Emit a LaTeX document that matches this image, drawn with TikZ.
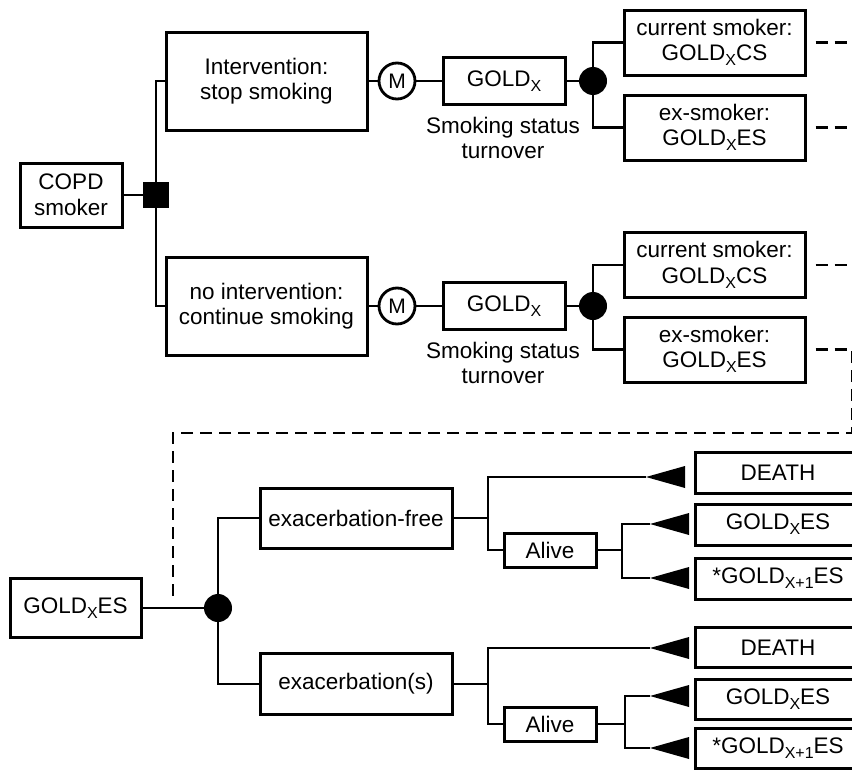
\documentclass[tikz,border=0pt]{standalone}
\usepackage{fontspec}
\setmainfont{Liberation Sans}
\newcommand\dn[1]{\raisebox{-5pt}{\fontsize{16}{16}\selectfont #1}}
\begin{document}
\begin{tikzpicture}[x=1pt,y=-1pt,
  box/.style={draw, line width=3pt, inner sep=0pt, align=center, font=\fontsize{22.5}{25.5}\selectfont},
  ln/.style={line width=2.8pt},
  dsh/.style={line width=2.8pt, dash pattern=on 12pt off 7pt},
  lbl/.style={align=center, inner sep=0pt, font=\fontsize{22.5}{25.5}\selectfont},
  mnode/.style={draw, circle, line width=2.8pt, minimum size=36pt, inner sep=0pt, font=\fontsize{21}{21}\selectfont},
  chance/.style={circle, fill, minimum size=28pt, inner sep=0pt},
  term/.style={fill}]
\clip (0,0) rectangle (852,771);
\fill[white] (0,0) rectangle (852,771);
\coordinate (edge) at (852,0);

% ---------- upper tree ----------
\node[box, minimum width=102pt, minimum height=64pt] (copd) at (71,195) {COPD\\smoker};
\node[fill, minimum size=26pt, inner sep=0pt] (dec) at (156,195) {};
\node[box, minimum width=201pt, minimum height=98pt] (iv) at (266.5,81) {Intervention:\\stop smoking};
\node[box, minimum width=201pt, minimum height=98pt] (niv) at (266.5,306) {no intervention:\\continue smoking};

\node[mnode] (m1) at (397,81) {M};
\node[mnode] (m2) at (397,306) {M};
\node[box, minimum width=122pt, minimum height=47pt] (g1) at (504,81) {GOLD\dn{X}};
\node[box, minimum width=122pt, minimum height=47pt] (g2) at (504,306) {GOLD\dn{X}};
\node[chance] (c1) at (593,81) {};
\node[chance] (c2) at (593,306) {};
\node[lbl] (s1) at (503,138) {Smoking status\\turnover};
\node[lbl] (s2) at (503,363) {Smoking status\\turnover};

\node[box, minimum width=181pt, minimum height=65pt] (cs1) at (714.5,42.5) {current smoker:\\GOLD\dn{X}CS};
\node[box, minimum width=181pt, minimum height=65pt] (es1) at (714.5,127.5) {ex-smoker:\\GOLD\dn{X}ES};
\node[box, minimum width=181pt, minimum height=65pt] (cs2) at (714.5,265) {current smoker:\\GOLD\dn{X}CS};
\node[box, minimum width=181pt, minimum height=65pt] (es2) at (714.5,349.5) {ex-smoker:\\GOLD\dn{X}ES};

\draw[ln] (copd) -- (dec);
\draw[ln] (dec.center) |- (iv.west);
\draw[ln] (dec.center) |- (niv.west);
\draw[ln] (iv) -- (m1);
\draw[ln] (niv) -- (m2);
\draw[ln] (m1) -- (g1);
\draw[ln] (m2) -- (g2);
\draw[ln] (g1) -- (c1);
\draw[ln] (g2) -- (c2);
\draw[ln] (c1.center) |- (cs1.west);
\draw[ln] (c1.center) |- (es1.west);
\draw[ln] (c2.center) |- (cs2.west);
\draw[ln] (c2.center) |- (es2.west);

\draw[dsh] ([xshift=9pt]cs1.east) -- (cs1.east -| edge);
\draw[dsh] ([xshift=9pt]es1.east) -- (es1.east -| edge);
\draw[dsh] ([xshift=9pt]cs2.east) -- (cs2.east -| edge);

% ---------- lower tree ----------
\node[box, minimum width=131pt, minimum height=59pt] (ges) at (75.5,608) {GOLD\dn{X}ES};
\node[chance] (c3) at (218,608) {};
\node[box, minimum width=192pt, minimum height=60pt] (ef) at (356,518) {exacerbation-free};
\node[box, minimum width=192pt, minimum height=61pt] (ex) at (356,684) {exacerbation(s)};

\coordinate (lp) at (173,433);
\coordinate (lend) at (173,598);
\draw[dsh] ([xshift=9pt]es2.east) -- (es2.east -| edge) |- (lp) -- (lend);

\draw[ln] (ges) -- (c3);
\draw[ln] (c3.center) |- (ef.west);
\draw[ln] (c3.center) |- (ex.west);

\coordinate (b1) at (488,518);
\coordinate (b3) at (488,684);
\draw[ln] (ef.east) -- (b1);
\draw[ln] (ex.east) -- (b3);

\node[box, minimum width=92pt, minimum height=34pt] (al1) at (550,550) {Alive};
\node[box, minimum width=92pt, minimum height=34pt] (al2) at (550,724) {Alive};

\node[box, minimum width=166pt, minimum height=41pt] (d1) at (778,472.5) {DEATH};
\node[box, minimum width=166pt, minimum height=41pt] (gx1) at (778,524.5) {GOLD\dn{X}ES};
\node[box, minimum width=166pt, minimum height=41pt] (gy1) at (778,578.5) {*GOLD\dn{X+1}ES};
\node[box, minimum width=166pt, minimum height=40pt] (d2) at (778,647.5) {DEATH};
\node[box, minimum width=166pt, minimum height=40pt] (gx2) at (778,699) {GOLD\dn{X}ES};
\node[box, minimum width=166pt, minimum height=40pt] (gy2) at (778,748) {*GOLD\dn{X+1}ES};

\coordinate (t1) at (646,477);
\coordinate (t2) at (650,524);
\coordinate (t3) at (650,578);
\coordinate (t4) at (650,648);
\coordinate (t5) at (650,696);
\coordinate (t6) at (650,748);
\coordinate (b2) at (622,550);
\coordinate (b4) at (625,724);

\draw[ln] (b1) |- (t1);
\draw[ln] (b1) |- (al1.west);
\draw[ln] (al1.east) -- (b2);
\draw[ln] (b2) |- (t2);
\draw[ln] (b2) |- (t3);
\draw[ln] (b3) |- (t4);
\draw[ln] (b3) |- (al2.west);
\draw[ln] (al2.east) -- (b4);
\draw[ln] (b4) |- (t5);
\draw[ln] (b4) |- (t6);

\foreach \t in {t1,t2,t3,t4,t5,t6}{
  \fill[term] (\t) -- ++(39,-11) -- ++(0,22) -- cycle;
}
\end{tikzpicture}
\end{document}
